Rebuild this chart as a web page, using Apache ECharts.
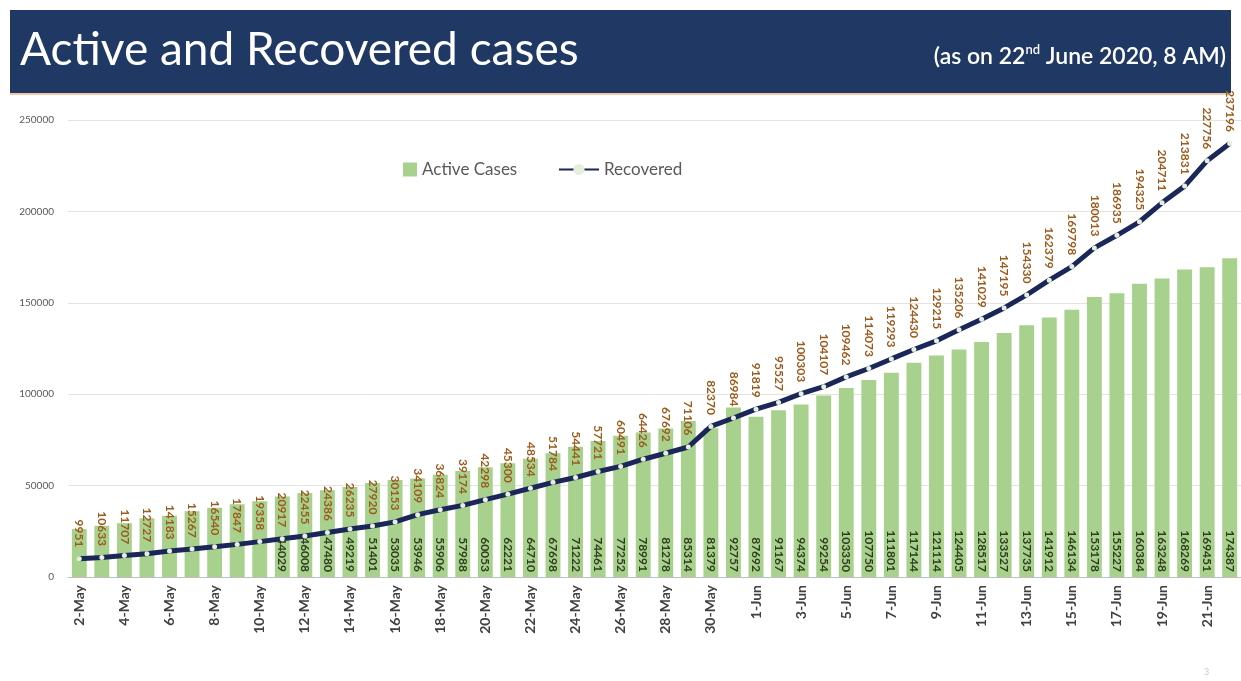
<!DOCTYPE html>
<html>
<head>
<meta charset="utf-8">
<script src="https://cdn.jsdelivr.net/npm/echarts@6/dist/echarts.min.js"></script>
<style>
html,body{margin:0;padding:0;background:#fff;}
#chart{width:1241px;height:681px;}
</style>
</head>
<body>
<div id="chart"></div>
<script>
const categories = ['2-May','3-May','4-May','5-May','6-May','7-May','8-May','9-May','10-May','11-May',
  '12-May','13-May','14-May','15-May','16-May','17-May','18-May','19-May','20-May','21-May',
  '22-May','23-May','24-May','25-May','26-May','27-May','28-May','29-May','30-May','31-May',
  '1-Jun','2-Jun','3-Jun','4-Jun','5-Jun','6-Jun','7-Jun','8-Jun','9-Jun','10-Jun',
  '11-Jun','12-Jun','13-Jun','14-Jun','15-Jun','16-Jun','17-Jun','18-Jun','19-Jun','20-Jun',
  '21-Jun','22-Jun'];
const activeCases = [26167,28046,29453,32138,33514,35902,37916,39834,41472,44029,
  46008,47480,49219,51401,53035,53946,55906,57988,60053,62221,
  64710,67698,71222,74461,77252,78991,81278,85314,81379,92757,
  87692,91167,94374,99254,103350,107750,111801,117144,121114,124405,
  128517,133527,137735,141912,146134,153178,155227,160384,163248,168269,
  169451,174387];
const recovered = [9951,10633,11707,12727,14183,15267,16540,17847,19358,20917,
  22455,24386,26235,27920,30153,34109,36824,39174,42298,45300,
  48534,51784,54441,57721,60491,64426,67692,71106,82370,86984,
  91819,95527,100303,104107,109462,114073,119293,124430,129215,135206,
  141029,147195,154330,162379,169798,180013,186935,194325,204711,213831,
  227756,237196];
const yTicks = [0, 50000, 100000, 150000, 200000, 250000];
const firstActiveLabel = 9; // active labels not shown for the earliest bars

const chart = echarts.init(document.getElementById('chart'), null, {renderer:'canvas'});
const FONT = 'Lato, "Open Sans", sans-serif';

chart.setOption({
  animation: false,
  backgroundColor: '#ffffff',
  textStyle: {fontFamily: FONT},
  graphic: [
    {type:'rect', shape:{x:10, y:10, width:1221, height:83}, style:{fill:'#1f3864'}, z:0},
    {type:'rect', shape:{x:10, y:93, width:1221, height:2}, style:{fill:'#f4c7a6'}, z:0},
    {type:'text', left:20, top:27, style:{text:'Active and Recovered cases', fill:'#ffffff', font:'400 46px ' + FONT}, z:1},
    {type:'text', right:15, top:43, style:{
      text:'{a|(as on 22}{s|nd}{a| June 2020, 8 AM)}',
      rich:{
        a:{fontSize:23, fontWeight:600, fill:'#ffffff', fontFamily:FONT, lineHeight:28},
        s:{fontSize:13, fontWeight:600, fill:'#ffffff', fontFamily:FONT, lineHeight:13, verticalAlign:'top'}
      }}, z:1},
    {type:'text', left:1204, top:668, style:{text:'3', fill:'#c8c8c8', font:'9px ' + FONT}, z:1}
  ],
  legend: [
    {data:[{name:'Active Cases', icon:'rect'}], left:398, top:156, itemWidth:14, itemHeight:14, itemGap:8,
     textStyle:{fontSize:17, color:'#595959', fontFamily:FONT}},
    {data:[{name:'Recovered'}], left:553, top:156, itemWidth:40, itemHeight:14,
     textStyle:{fontSize:17, color:'#595959', fontFamily:FONT}}
  ],
  grid: {left:68, right:0, top:120, bottom:104},
  xAxis: {
    type:'category', data:categories,
    axisLine:{lineStyle:{color:'#bfbfbf'}},
    axisTick:{show:false},
    axisLabel:{interval:1, rotate:90, margin:8, fontSize:14, fontWeight:'bold', color:'#404040', fontFamily:FONT}
  },
  yAxis: {
    type:'value', min:yTicks[0], max:yTicks[yTicks.length-1], interval:yTicks[1]-yTicks[0],
    axisLine:{show:false}, axisTick:{show:false},
    axisLabel:{fontSize:10, color:'#595959', margin:14, fontFamily:FONT, formatter:(v)=>String(v)},
    splitLine:{lineStyle:{color:'#e3e3e3', width:1}}
  },
  series: [
    {
      name:'Active Cases', type:'bar', barCategoryGap:'34%',
      itemStyle:{color:'#a9d18e'},
      data: activeCases.map((v,i)=>({value:v, label:{show:i>=firstActiveLabel}})),
      label:{position:'insideBottom', rotate:-90, align:'right', verticalAlign:'middle', distance:5,
        fontSize:12, fontWeight:'bold', color:'#2e3d1e', fontFamily:FONT},
      z:1
    },
    {
      name:'Recovered', type:'line', data:recovered,
      lineStyle:{color:'#1a2758', width:5},
      itemStyle:{color:'#e6eedd', borderWidth:0},
      symbol:'circle', symbolSize:5, showSymbol:true,
      label:{show:true, position:'top', rotate:-90, align:'right', verticalAlign:'middle', distance:9,
        fontSize:12, fontWeight:'bold', color:'#9c5a1c', fontFamily:FONT},
      labelLayout:{hideOverlap:false},
      z:3
    }
  ]
});
</script>
</body>
</html>
